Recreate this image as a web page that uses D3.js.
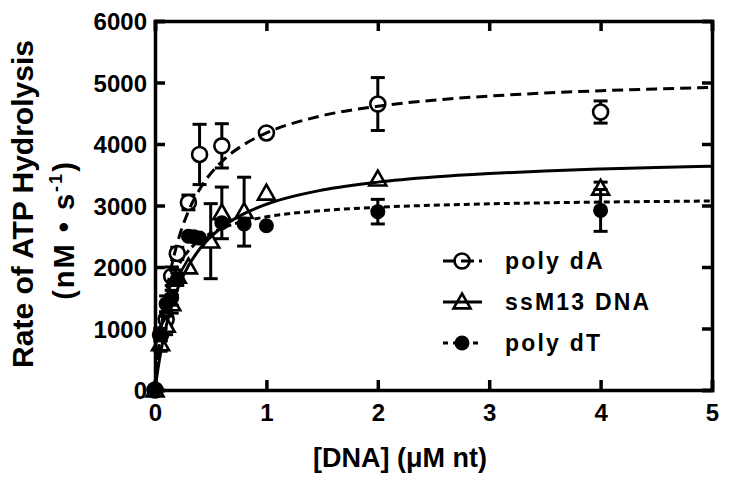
<!DOCTYPE html>
<html>
<head>
<meta charset="utf-8">
<script src="https://cdn.jsdelivr.net/npm/d3@7"></script>
<style>
  body { margin: 0; background: #fff; }
  text { font-family: "Liberation Sans", Arial, sans-serif; font-weight: bold; fill: #000; }
</style>
</head>
<body>
<svg id="chart" width="729" height="484"></svg>
<script>
// measured points (x in uM nt, rate in nM/s, err = +/- bar)
var dAx   = [0, 0.05, 0.1, 0.15, 0.2, 0.3, 0.4, 0.6, 1, 2, 4];
var dAy   = [0, 900, 1150, 1850, 2220, 3050, 3830, 3970, 4180, 4650, 4520];
var dAerr = [0, 100, 120, 150, 100, 120, 490, 360, 0, 430, 180];

var m13x   = [0, 0.05, 0.1, 0.15, 0.2, 0.3, 0.5, 0.6, 0.8, 1, 2, 4];
var m13y   = [0, 750, 1050, 1400, 1850, 2000, 2420, 2880, 2900, 3200, 3430, 3280];
var m13err = [0, 120, 150, 150, 100, 0, 610, 420, 560, 0, 0, 100];

var dTx   = [0, 0.05, 0.1, 0.15, 0.2, 0.3, 0.35, 0.4, 0.6, 0.8, 1, 2, 4];
var dTy   = [0, 900, 1400, 1500, 1800, 2500, 2490, 2470, 2720, 2700, 2670, 2900, 2920];
var dTerr = [0, 100, 130, 120, 100, 0, 0, 0, 0, 0, 0, 200, 340];

// fitted curves
var fitX   = [0, 0.025, 0.05, 0.1, 0.15, 0.2, 0.3, 0.4, 0.6, 0.8, 1, 1.5, 2, 2.5, 3, 3.5, 4, 4.5, 5];
var dAfit  = [0, 502, 914, 1553, 2024, 2386, 2906, 3261, 3715, 3993, 4180, 4460, 4614, 4712, 4779, 4829, 4866, 4896, 4920];
var m13fit = [0, 325, 599, 1037, 1370, 1632, 2019, 2290, 2646, 2868, 3020, 3251, 3380, 3462, 3519, 3561, 3593, 3619, 3639];
var dTfit  = [0, 554, 942, 1449, 1767, 1984, 2263, 2433, 2632, 2744, 2816, 2917, 2971, 3004, 3027, 3043, 3056, 3065, 3073];

var xTicks = [0, 1, 2, 3, 4, 5];
var yTicks = [0, 1000, 2000, 3000, 4000, 5000, 6000];
var legendNames = ["poly dA", "ssM13 DNA", "poly dT"];

var svg = d3.select("#chart");
var plotLeft = 155, plotRight = 712, plotTop = 21, plotBottom = 390;

var xScale = d3.scaleLinear().domain([0, 5]).range([plotLeft, plotRight]);
var yScale = d3.scaleLinear().domain([0, 6000]).range([plotBottom, plotTop]);

var series = [
  {name: legendNames[0], x: dAx, y: dAy, err: dAerr, fit: dAfit, marker: "openCircle", dash: "11,6"},
  {name: legendNames[1], x: m13x, y: m13y, err: m13err, fit: m13fit, marker: "triangle", dash: null},
  {name: legendNames[2], x: dTx, y: dTy, err: dTerr, fit: dTfit, marker: "dot", dash: "6,4"}
];

var line = d3.line()
  .x(function(d) { return xScale(d[0]); })
  .y(function(d) { return yScale(d[1]); })
  .curve(d3.curveMonotoneX);

function drawMarker(g, type, cx, cy) {
  if (type == "openCircle") {
    g.append("circle").attr("cx", cx).attr("cy", cy).attr("r", 7.5)
      .attr("fill", "#fff").attr("stroke", "#000").attr("stroke-width", 2.6);
  } else if (type == "dot") {
    g.append("circle").attr("cx", cx).attr("cy", cy).attr("r", 7.5)
      .attr("fill", "#000");
  } else {
    var s = 8.5;
    g.append("path")
      .attr("d", "M" + cx + "," + (cy - s) + "L" + (cx + s) + "," + (cy + s * 0.75) + "L" + (cx - s) + "," + (cy + s * 0.75) + "Z")
      .attr("fill", "#fff").attr("stroke", "#000").attr("stroke-width", 2.6).attr("stroke-linejoin", "miter");
  }
}

// error bars + markers
series.forEach(function(s) {
  var g = svg.append("g");
  s.x.forEach(function(x, i) {
    var e = s.err[i];
    if (e > 0) {
      var px = xScale(x), y1 = yScale(s.y[i] + e), y2 = yScale(s.y[i] - e);
      g.append("line").attr("x1", px).attr("x2", px).attr("y1", y1).attr("y2", y2)
        .attr("stroke", "#000").attr("stroke-width", 3);
      [y1, y2].forEach(function(yy) {
        g.append("line").attr("x1", px - 7).attr("x2", px + 7).attr("y1", yy).attr("y2", yy)
          .attr("stroke", "#000").attr("stroke-width", 3);
      });
    }
  });
  s.x.forEach(function(x, i) {
    drawMarker(g, s.marker, xScale(x), yScale(s.y[i]));
  });
});

// fit lines drawn over the markers, like the original
series.forEach(function(s) {
  var pts = fitX.map(function(x, i) { return [x, s.fit[i]]; });
  svg.append("path")
    .datum(pts)
    .attr("d", line)
    .attr("fill", "none")
    .attr("stroke", "#000")
    .attr("stroke-width", 3)
    .attr("stroke-dasharray", s.dash);
});

// axes, ticks inward
var xAxis = d3.axisBottom(xScale).tickValues(xTicks).tickSize(-10).tickPadding(14).tickFormat(d3.format("d"));
var yAxis = d3.axisLeft(yScale).tickValues(yTicks).tickSize(-10).tickPadding(8).tickFormat(d3.format("d"));

var gx = svg.append("g").attr("transform", "translate(0," + plotBottom + ")").call(xAxis);
var gy = svg.append("g").attr("transform", "translate(" + plotLeft + ",0)").call(yAxis);
var gx2 = svg.append("g").attr("transform", "translate(0," + plotTop + ")")
  .call(d3.axisTop(xScale).tickValues(xTicks).tickSize(-10).tickFormat(""));
var gy2 = svg.append("g").attr("transform", "translate(" + plotRight + ",0)")
  .call(d3.axisRight(yScale).tickValues(yTicks).tickSize(-10).tickFormat(""));

[gx, gy, gx2, gy2].forEach(function(g) {
  g.selectAll("path").attr("stroke", "#000").attr("stroke-width", 3.5);
  g.selectAll(".tick line").attr("stroke", "#000").attr("stroke-width", 3.5);
  g.selectAll("text").style("font-size", "24px").style("font-family", "Liberation Sans, Arial, sans-serif").style("font-weight", "bold");
});
gy.selectAll("text").attr("dy", "0.36em");

// axis titles
svg.append("text")
  .attr("x", 400)
  .attr("y", 467)
  .attr("text-anchor", "middle")
  .style("font-size", "27px")
  .text("[DNA] (\u03bcM nt)");

svg.append("text")
  .attr("transform", "translate(33,204) rotate(-90)")
  .attr("text-anchor", "middle")
  .style("font-size", "30px")
  .text("Rate of ATP Hydrolysis");

var t2 = svg.append("text")
  .attr("transform", "translate(74,230) rotate(-90)")
  .attr("text-anchor", "middle")
  .style("font-size", "29px")
  .style("letter-spacing", "2px");
t2.append("tspan").text("(nM \u2022 s");
t2.append("tspan").attr("dy", -12).style("font-size", "18px").text("-1");
t2.append("tspan").attr("dy", 12).text(")");

// legend
var legendY = [261, 302, 343];
var legendDash = ["13,5", null, "5,5"];
series.forEach(function(s, i) {
  var g = svg.append("g");
  var yy = legendY[i];
  drawMarker(g, s.marker, 462, yy);
  g.append("line").attr("x1", 443).attr("x2", 482).attr("y1", yy).attr("y2", yy)
    .attr("stroke", "#000").attr("stroke-width", 3)
    .attr("stroke-dasharray", legendDash[i]);
  g.append("text").attr("x", 505).attr("y", yy).attr("dy", "0.36em")
    .style("font-size", "23px").style("letter-spacing", "2.2px").text(s.name);
});
</script>
</body>
</html>
